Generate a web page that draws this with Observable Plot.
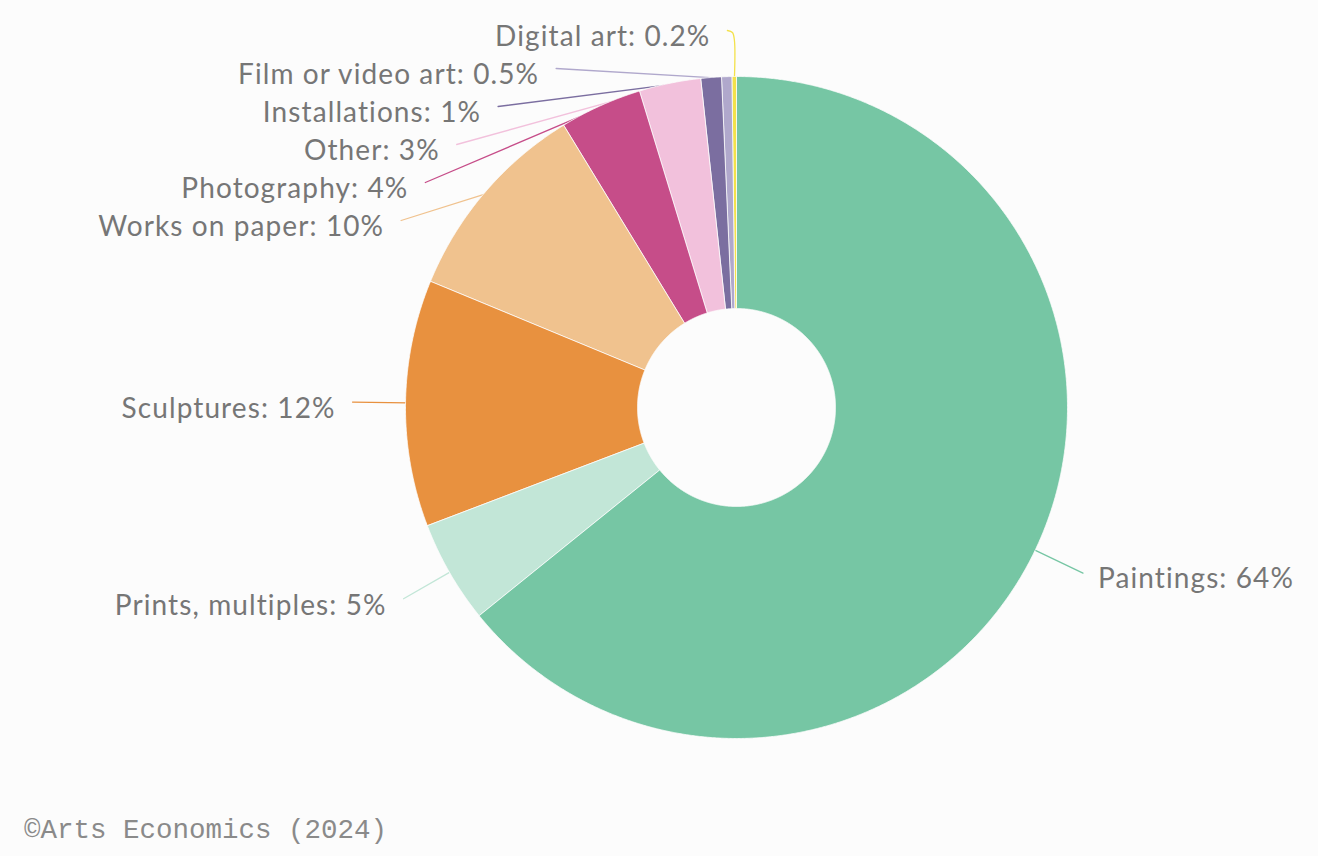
<!DOCTYPE html>
<html><head><meta charset="utf-8">
<script src="https://cdn.jsdelivr.net/npm/d3@7"></script>
<script src="https://cdn.jsdelivr.net/npm/@observablehq/plot@0.6"></script>
<style>
html,body{margin:0;padding:0;background:#fcfcfc;}
#chart svg{display:block;}
#chart svg text{letter-spacing:1.1px;}
#caption{font-family:"Liberation Mono","DejaVu Sans Mono",monospace;font-size:27.5px;line-height:30px;color:#8a8a8a;margin:26px 0 0 24px;white-space:nowrap;}
</style></head><body>
<div id="chart"></div>
<div id="caption">©Arts Economics (2024)</div>
<script>
// ---- data ----
const categories = ["Paintings","Prints, multiples","Sculptures","Works on paper","Photography","Other","Installations","Film or video art","Digital art"];
const shares = [64,5,12,10,4,3,1,0.5,0.2];
const colors = ["#76c6a4","#c2e6d7","#e8913f","#f0c28e","#c64d89","#f2c1dc","#7b6ea0","#b0a8cc","#f3e14a"];

// ---- layout ----
const W=1318, H=790, CX=736, CY=407, R_OUT=331, R_IN=99, R_LABEL=384, TOP_Y=30, GAP=38;
const total = d3.sum(shares);
let cum = 0;
const slices = categories.map((name,i)=>{
  const a0 = cum/total*2*Math.PI; cum += shares[i];
  const a1 = cum/total*2*Math.PI;
  return {name, value:shares[i], a0, a1, mid:(a0+a1)/2};
});
const pt = (a,r)=>({x:CX+r*Math.sin(a), y:CY-r*Math.cos(a)});

const polys = slices.flatMap(s=>{
  const n = Math.max(2, Math.ceil((s.a1-s.a0)/0.004));
  const outer = d3.range(n+1).map(k=>({name:s.name, ...pt(s.a0+(s.a1-s.a0)*k/n, R_OUT)}));
  const inner = d3.range(n+1).map(k=>({name:s.name, ...pt(s.a1-(s.a1-s.a0)*k/n, R_IN)}));
  return [...outer, ...inner];
});

const labels = slices.map(s=>{
  const nat = pt(s.mid, R_LABEL);
  return {...s, nat, side: Math.sin(s.mid)>0 ? "right" : "left", top: Math.abs(Math.sin(s.mid))<0.01};
});
const left = labels.filter(l=>l.side==="left").sort((a,b)=>a.nat.y-b.nat.y);
let prev = -Infinity;
for (const l of left) {
  l.y = Math.max(l.nat.y, prev+GAP, TOP_Y); prev = l.y;
  if (l.top) l.x = pt(l.mid, R_OUT).x - 7;
  else if (l.y === l.nat.y) l.x = l.nat.x;
  else l.x = CX - Math.sqrt(R_LABEL**2 - (l.y-CY)**2);
}
labels.filter(l=>l.side==="right").forEach(l=>{l.x=l.nat.x; l.y=l.nat.y;});

const leaders = labels.flatMap(l=>{
  const s = pt(l.mid, R_OUT-2);
  if (l.top) return [
    {name:l.name, x:s.x, y:s.y},
    {name:l.name, x:s.x, y:l.y+10},
    {name:l.name, x:s.x-2, y:l.y+2},
    {name:l.name, x:l.x, y:l.y}];
  return [{name:l.name, ...s}, {name:l.name, x:l.x, y:l.y}];
});

const fmt = l=>`${l.name}: ${l.value}%`;

const chart = Plot.plot({
  width: W, height: H, margin: 0,
  x: {domain:[0,W], range:[0,W], axis:null},
  y: {domain:[0,H], range:[0,H], axis:null},
  color: {domain: categories, range: colors},
  style: {background:"transparent", fontFamily:"Lato, sans-serif"},
  marks: [
    Plot.line(leaders, {x:"x", y:"y", z:"name", stroke:"name", strokeWidth:1.3, curve:"catmull-rom"}),
    Plot.line(polys, {x:"x", y:"y", z:"name", fill:"name", stroke:"#fcfcfc", strokeWidth:0.8, curve:"linear-closed"}),
    Plot.text(labels.filter(l=>l.side==="left"), {x:l=>l.x-17, y:"y", text:fmt, textAnchor:"end", fontSize:28, fill:"#767676", dy:7}),
    Plot.text(labels.filter(l=>l.side==="right"), {x:l=>l.x+15, y:"y", text:fmt, textAnchor:"start", fontSize:28, fill:"#767676", dy:6})
  ]
});
document.getElementById("chart").appendChild(chart);
</script>
</body></html>
